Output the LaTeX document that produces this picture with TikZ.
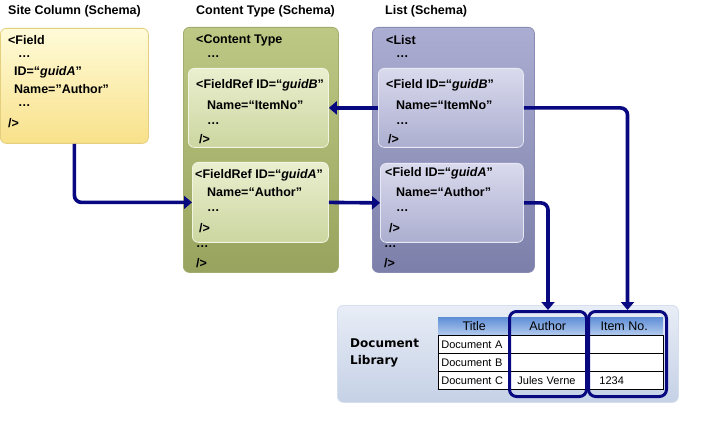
\documentclass[tikz,border=0pt]{standalone}
\usepackage{fontspec}
\setmainfont{Liberation Sans}
\newfontfamily\dvfont{DejaVu Sans}
\usetikzlibrary{arrows.meta}
\definecolor{navy}{RGB}{8,8,128}
\definecolor{ytop}{HTML}{FFFBD8}
\definecolor{ybot}{HTML}{F8E18A}
\definecolor{gtop}{HTML}{BCC883}
\definecolor{gbot}{HTML}{98A35E}
\definecolor{gitop}{HTML}{EAEFCF}
\definecolor{gibot}{HTML}{CCD6A0}
\definecolor{btop}{HTML}{ABADD2}
\definecolor{bbot}{HTML}{7C7FA9}
\definecolor{bitop}{HTML}{D9DAED}
\definecolor{bibot}{HTML}{ACAED0}
\definecolor{ptop}{HTML}{E8EDF6}
\definecolor{pbot}{HTML}{C5D1E6}
\definecolor{htop}{HTML}{5F8ED6}
\definecolor{hbot}{HTML}{B3CBEE}
\begin{document}
\begin{tikzpicture}[x=1pt,y=-1pt,
  txt/.style={anchor=west,inner sep=0pt,font=\bfseries\fontsize{12.5}{14}\selectfont},
  box/.style={anchor=north west,rounded corners=6pt,inner sep=0pt,line width=0.8pt},
  arr/.style={draw=navy,line width=3.6pt,rounded corners=7pt,-{Triangle[length=8pt,width=13pt]}},
  hdr/.style={anchor=north west,inner sep=0pt,minimum height=18pt,top color=htop,bottom color=hbot,font=\fontsize{12.5}{14}\selectfont},
  cell/.style={anchor=north west,draw=black,line width=0.8pt,fill=white,inner xsep=3pt,inner ysep=0pt,minimum height=18pt,align=left,font=\fontsize{11}{13}\selectfont},
  colbox/.style={anchor=north west,draw=navy,line width=3pt,rounded corners=7pt,inner sep=0pt}
]
\useasboundingbox (0,0) rectangle (705,425);

% titles
\node[txt] (t1) at (8,11) {Site Column (Schema)};
\node[txt] (t2) at (196,11) {Content Type (Schema)};
\node[txt] (t3) at (385,11) {List (Schema)};

% site column box
\node[box,draw=ybot!80!black!40!ybot,top color=ytop,bottom color=ybot,minimum width=148pt,minimum height=115pt] (site) at (0,28) {};
\node[txt] (s1) at (8,40) {<Field};
\node[txt] (s2) at (18,57) {…};
\node[txt] (s3) at (14,72) {ID=“\textit{guidA}”};
\node[txt] (s4) at (14,89) {Name=”Author”};
\node[txt] (s5) at (18,106) {…};
\node[txt] (s6) at (8,123) {/>};

% content type box
\node[box,draw=gbot!90!white,top color=gtop,bottom color=gbot,minimum width=155pt,minimum height=245pt] (ct) at (183,27) {};
\node[box,draw=gitop!60!white,top color=gitop,bottom color=gibot,minimum width=140pt,minimum height=79pt] (ctB) at (188,68) {};
\node[box,draw=gitop!60!white,top color=gitop,bottom color=gibot,minimum width=136pt,minimum height=80pt] (ctA) at (192,162) {};
\node[txt] (c1) at (196,40) {<Content Type};
\node[txt] (c2) at (207,57) {…};
\node[txt] (c3) at (196,85) {<FieldRef ID=“\textit{guidB}”};
\node[txt] (c4) at (207,105) {Name=“ItemNo”};
\node[txt] (c5) at (207,124) {…};
\node[txt] (c6) at (199,139) {/>};
\node[txt] (c7) at (195,175) {<FieldRef ID=“\textit{guidA}”};
\node[txt] (c8) at (207,192) {Name=“Author”};
\node[txt] (c9) at (207,211) {…};
\node[txt] (c10) at (199,228) {/>};
\node[txt] (c11) at (196,247) {…};
\node[txt] (c12) at (196,263) {/>};

% list box
\node[box,draw=bbot!90!white,top color=btop,bottom color=bbot,minimum width=162pt,minimum height=245pt] (li) at (372,27) {};
\node[box,draw=bitop!60!white,top color=bitop,bottom color=bibot,minimum width=145pt,minimum height=79pt] (lB) at (378,68) {};
\node[box,draw=bitop!60!white,top color=bitop,bottom color=bibot,minimum width=143pt,minimum height=79pt] (lA) at (380,163) {};
\node[txt] (l1) at (386,40) {<List};
\node[txt] (l2) at (396,57) {…};
\node[txt] (l3) at (386,85) {<Field ID=“\textit{guidB}”};
\node[txt] (l4) at (396,105) {Name=“ItemNo”};
\node[txt] (l5) at (396,124) {…};
\node[txt] (l6) at (388,139) {/>};
\node[txt] (l7) at (385,173) {<Field ID=“\textit{guidA}”};
\node[txt] (l8) at (396,192) {Name=“Author”};
\node[txt] (l9) at (396,211) {…};
\node[txt] (l10) at (389,228) {/>};
\node[txt] (l11) at (384,247) {…};
\node[txt] (l12) at (384,263) {/>};

% document library panel
\node[box,draw=pbot!70!white,top color=ptop,bottom color=pbot,minimum width=341pt,minimum height=97pt] (dl) at (337,305) {};
\node[anchor=west,inner sep=0pt,align=left,font=\dvfont\bfseries\fontsize{12}{17}\selectfont] (dlt) at (350,353) {Document\\Library};

% table
\node[hdr,minimum width=72pt] (h1) at (438,317) {Title};
\node[hdr,minimum width=75pt] (h2) at (510,317) {Author};
\node[hdr,minimum width=78pt] (h3) at (585,317) {Item No.};
\node[cell,text width=66pt] (r1a) at (438,335) {Document A};
\node[cell,text width=69pt] (r1b) at (510,335) {};
\node[cell,text width=72pt] (r1c) at (585,335) {};
\node[cell,text width=66pt] (r2a) at (438,353) {Document B};
\node[cell,text width=69pt] (r2b) at (510,353) {};
\node[cell,text width=72pt] (r2c) at (585,353) {};
\node[cell,text width=66pt] (r3a) at (438,371) {Document C};
\node[cell,text width=69pt] (r3b) at (510,371) {\hspace*{4pt}Jules Verne};
\node[cell,text width=72pt] (r3c) at (585,371) {\hspace*{11pt}1234};

% column highlights
\node[colbox,minimum width=77pt,minimum height=85pt] (authcol) at (508,310) {};
\node[colbox,minimum width=78pt,minimum height=85pt] (itemcol) at (587,310) {};

% connectors
\draw[arr] (site.south) |- (ctA.west);
\draw[arr] (ctA.east) -- (lA.west);
\draw[arr] (lB.west) -- (ctB.east);
\draw[arr] (lB.east) -| (itemcol.north);
\draw[arr] (lA.east) -| (authcol.north);
\end{tikzpicture}
\end{document}
